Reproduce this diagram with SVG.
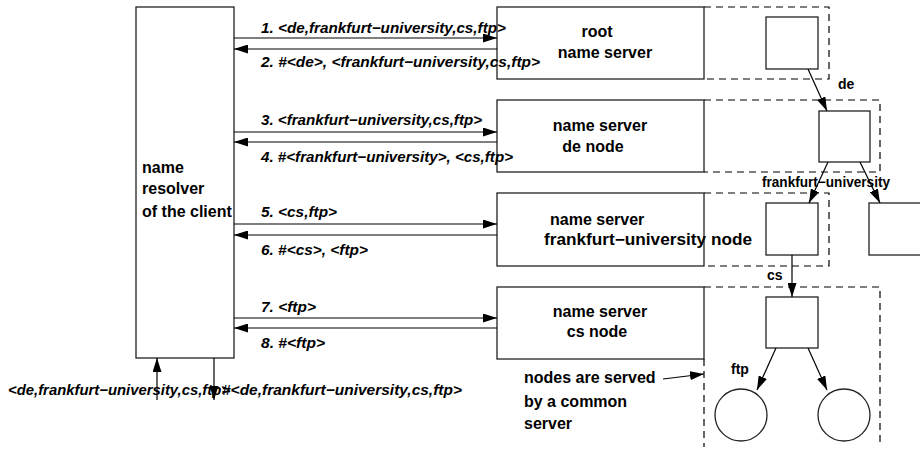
<svg xmlns="http://www.w3.org/2000/svg" width="920" height="450" viewBox="0 0 920 450">
<defs>
<marker id="ah" viewBox="0 0 14 9" refX="14" refY="4.5" markerWidth="14" markerHeight="9" markerUnits="userSpaceOnUse" orient="auto">
<path d="M0,0 L14,4.5 L0,9 Z" fill="#000"/>
</marker>
<style>
.box{fill:#fff;stroke:#222;stroke-width:1.3}
.dash{fill:none;stroke:#000;stroke-width:1.2;stroke-dasharray:7,5}
.line{fill:none;stroke:#000;stroke-width:1.2;marker-end:url(#ah)}
.msg{font-family:"Liberation Sans",Arial,sans-serif;font-size:15px;font-style:italic;font-weight:bold;fill:#000}
.lbl{font-family:"Liberation Sans",Arial,sans-serif;font-size:16px;font-weight:bold;fill:#000}
.small{font-family:"Liberation Sans",Arial,sans-serif;font-size:14px;font-weight:bold;fill:#000}
</style>
</defs>
<rect width="920" height="450" fill="#fff"/>

<g id="client">
<rect class="box" x="136" y="7" width="98" height="351"/>
<text class="lbl" x="142" y="173">name</text>
<text class="lbl" x="142" y="194">resolver</text>
<text class="lbl" x="142" y="217">of the client</text>
</g>

<g id="root-server">
<rect class="box" x="497" y="7" width="207" height="72"/>
<path class="dash" d="M704,7 H829 V79 H704"/>
<text class="lbl" x="597" y="37" text-anchor="middle">root</text>
<text class="lbl" x="605" y="58" text-anchor="middle">name server</text>
</g>

<g id="de-server">
<rect class="box" x="497" y="100" width="207" height="72"/>
<path class="dash" d="M704,100 H880 V172 H704"/>
<text class="lbl" x="600" y="131" text-anchor="middle">name server</text>
<text class="lbl" x="593" y="152" text-anchor="middle">de node</text>
</g>

<g id="fu-server">
<rect class="box" x="497" y="193" width="207" height="73"/>
<path class="dash" d="M704,193 H829 V266 H704"/>
<text class="lbl" x="550" y="225">name server</text>
<text class="lbl" x="544" y="245" textLength="208" lengthAdjust="spacingAndGlyphs">frankfurt−university node</text>
</g>

<g id="cs-server">
<rect class="box" x="497" y="287" width="207" height="72"/>
<path class="dash" d="M704,287 H880 V447 M704,359 V447"/>
<text class="lbl" x="600" y="317" text-anchor="middle">name server</text>
<text class="lbl" x="597" y="337" text-anchor="middle">cs node</text>
</g>

<g id="tree-root"><rect class="box" x="766" y="17" width="52" height="52"/></g>
<g id="tree-de"><rect class="box" x="819" y="111" width="51" height="51"/></g>
<g id="tree-fu"><rect class="box" x="766" y="203" width="52" height="52"/></g>
<g id="tree-other"><rect class="box" x="869" y="203" width="55" height="52"/></g>
<g id="tree-cs"><rect class="box" x="766" y="297" width="52" height="51"/></g>
<g id="tree-ftp"><circle class="box" cx="741" cy="415" r="26"/></g>
<g id="tree-leaf"><circle class="box" cx="844" cy="415" r="26"/></g>

<g id="note">
<text class="lbl" x="524" y="383">nodes are served</text>
<text class="lbl" x="524" y="407">by a common</text>
<text class="lbl" x="524" y="429">server</text>
</g>

<g id="connectors">
<line class="line" x1="234" y1="38" x2="497" y2="38"/>
<line class="line" x1="497" y1="49" x2="234" y2="49"/>
<line class="line" x1="234" y1="132" x2="497" y2="132"/>
<line class="line" x1="497" y1="142" x2="234" y2="142"/>
<line class="line" x1="234" y1="224" x2="497" y2="224"/>
<line class="line" x1="497" y1="235" x2="234" y2="235"/>
<line class="line" x1="234" y1="318" x2="497" y2="318"/>
<line class="line" x1="497" y1="328" x2="234" y2="328"/>
<line class="line" x1="157" y1="400" x2="157" y2="358"/>
<line class="line" x1="214" y1="358" x2="214" y2="400"/>
<line class="line" x1="808" y1="69" x2="827" y2="111"/>
<line class="line" x1="828" y1="162" x2="809" y2="203"/>
<line class="line" x1="860" y1="162" x2="880" y2="203"/>
<line class="line" x1="792" y1="255" x2="792" y2="297"/>
<line class="line" x1="776" y1="348" x2="757" y2="390"/>
<line class="line" x1="808" y1="348" x2="827" y2="390"/>
<line class="line" x1="663" y1="379" x2="704" y2="374"/>
</g>

<g id="labels">
<text class="msg" x="261" y="33" textLength="245" lengthAdjust="spacingAndGlyphs">1. &lt;de,frankfurt−university,cs,ftp&gt;</text>
<text class="msg" x="261" y="67" textLength="279" lengthAdjust="spacingAndGlyphs">2. #&lt;de&gt;, &lt;frankfurt−university,cs,ftp&gt;</text>
<text class="msg" x="261" y="125" textLength="221" lengthAdjust="spacingAndGlyphs">3. &lt;frankfurt−university,cs,ftp&gt;</text>
<text class="msg" x="261" y="162" textLength="252" lengthAdjust="spacingAndGlyphs">4. #&lt;frankfurt−university&gt;, &lt;cs,ftp&gt;</text>
<text class="msg" x="261" y="217" textLength="76" lengthAdjust="spacingAndGlyphs">5. &lt;cs,ftp&gt;</text>
<text class="msg" x="261" y="255" textLength="107" lengthAdjust="spacingAndGlyphs">6. #&lt;cs&gt;, &lt;ftp&gt;</text>
<text class="msg" x="261" y="312" textLength="55" lengthAdjust="spacingAndGlyphs">7. &lt;ftp&gt;</text>
<text class="msg" x="261" y="348" textLength="64" lengthAdjust="spacingAndGlyphs">8. #&lt;ftp&gt;</text>
<text class="msg" x="8" y="395" textLength="222" lengthAdjust="spacingAndGlyphs">&lt;de,frankfurt−university,cs,ftp&gt;</text>
<text class="msg" x="222" y="395" textLength="240" lengthAdjust="spacingAndGlyphs">#&lt;de,frankfurt−university,cs,ftp&gt;</text>
<text class="small" x="838" y="89">de</text>
<text class="small" x="762" y="187" textLength="128" lengthAdjust="spacingAndGlyphs">frankfurt−university</text>
<text class="small" x="767" y="280">cs</text>
<text class="small" x="731" y="374">ftp</text>
</g>
</svg>
